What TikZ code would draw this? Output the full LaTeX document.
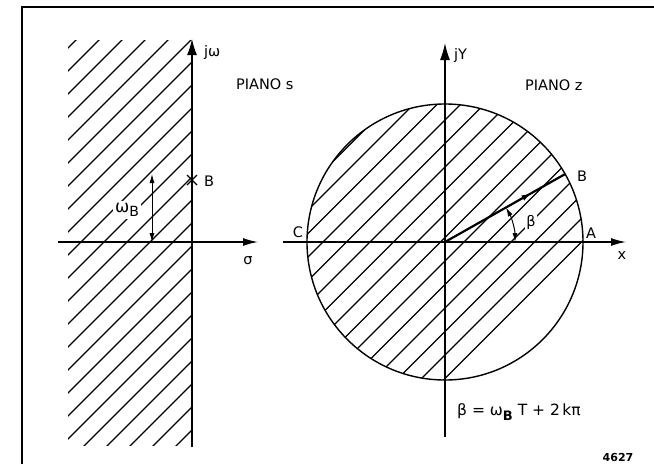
\documentclass[tikz,border=0pt]{standalone}
\usepackage{fontspec}
\setmainfont{DejaVu Sans}
\usetikzlibrary{arrows.meta,calc,decorations.markings}
\begin{document}
\begin{tikzpicture}[x=1pt,y=-1pt,
  hatch/.style={line width=1.3pt},
  axisthick/.style={line width=2.4pt},
  axisthin/.style={line width=1.4pt},
  bigtip/.style={-{Latex[length=17pt,width=10pt]}},
  htip/.style={-{Latex[length=15pt,width=8pt]}},
  lbl/.style={inner sep=1pt,font=\fontsize{14.5}{16}\selectfont},
  wlbl/.style={lbl,fill=white},
  dbl/.style={{Latex[length=9pt,width=5pt]}-{Latex[length=9pt,width=5pt]},line width=1pt}]
\useasboundingbox (0,0) rectangle (654,464);
% frame
\draw[line width=1.6pt] (22,464) -- (22,7) -- (654,7);
% ---------- s plane ----------
\coordinate (O1) at (192,242);
\coordinate (J1b) at (192,447);
\coordinate (J1t) at (192,38);
\coordinate (S1l) at (58,242);
\coordinate (S1r) at (258,242);
\begin{scope}
  \clip (68,40) rectangle (192,445);
  \foreach \k in {-12,...,16} \draw[hatch] (192,{85+23*\k}) -- ++(-420,420);
\end{scope}
\draw[axisthin,htip] (S1l) -- (S1r);
\draw[axisthick,bigtip] (J1b) -- (J1t);
\node[lbl,anchor=west] (jw) at (203,52) {jω};
\node[lbl] (sig) at (248,261) {σ};
\node[lbl,anchor=west] (ps) at (235,84) {PIANO s};
\coordinate (B1) at (192,180);
\draw[line width=1.3pt] ($(B1)+(-5,-5)$) -- ($(B1)+(5,5)$) ($(B1)+(-5,5)$) -- ($(B1)+(5,-5)$);
\node[lbl,anchor=west] (b1l) at (203,181) {B};
\coordinate (W1b) at (152,242);
\coordinate (W1t) at (152,174);
\draw[dbl] (W1b) -- (W1t);
\node[wlbl,inner sep=2pt] (wb) at (127,210) {\fontsize{17}{18}\selectfont ω\raisebox{-0.5ex}{\fontsize{14}{15}\selectfont B}};
% ---------- z plane ----------
\coordinate (O2) at (445,242);
\coordinate (A2) at (583,242);
\coordinate (C2) at (307,242);
\coordinate (B2) at ($(O2)+(-29.5:138)$);
\begin{scope}
  \clip (O2) circle (138);
  \foreach \k in {-10,...,10} \draw[hatch] (445,{143.5+23.5*\k}) -- ++(-320,320) (445,{143.5+23.5*\k}) -- ++(320,-320);
\end{scope}
\draw[line width=1.4pt] (O2) circle (138);
\coordinate (X2l) at (283,242);
\coordinate (X2r) at (626,242);
\coordinate (Y2b) at (445,437);
\coordinate (Y2t) at (445,43);
\draw[axisthin,htip] (X2l) -- (X2r);
\draw[line width=1.4pt,bigtip] (Y2b) -- (Y2t);
\draw[line width=2.2pt,postaction={decorate},decoration={markings,mark=at position 0.72 with {\arrow{Latex[length=10pt,width=6pt]}}}] (O2) -- (B2);
\draw[dbl] ($(O2)+(0:70)$) arc[start angle=0,end angle=-29.5,radius=70];
\node[wlbl] (bet) at (531,222) {β};
\node[lbl,anchor=west] (jy) at (453,55) {jY};
\node[lbl,anchor=west] (pz) at (524,85) {PIANO z};
\node[lbl] (al) at (591,233) {A};
\node[lbl] (cl) at (298,232) {C};
\node[lbl] (bl) at (582,176) {B};
\node[lbl] (xl) at (622,256) {x};
\node[lbl,anchor=west,font=\fontsize{15.5}{18}\selectfont] (form) at (456,412) {β = ω\raisebox{-0.5ex}{\fontsize{13}{14}\selectfont\bfseries B} T + 2\,kπ};
\node[inner sep=0pt,font=\fontsize{11}{12}\selectfont\bfseries] (num) at (618,457) {4627};
\end{tikzpicture}
\end{document}
